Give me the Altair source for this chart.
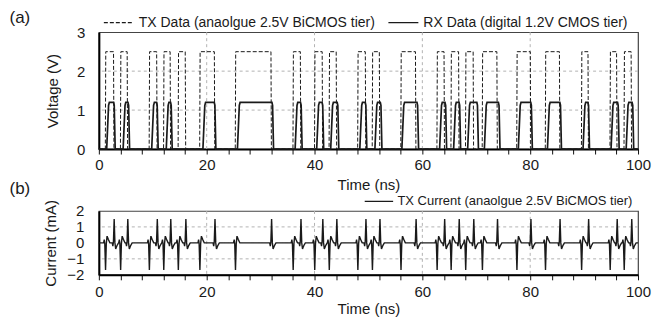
import altair as alt
import pandas as pd

TX_LABEL = "TX Data (anaolgue 2.5V BiCMOS tier)"
RX_LABEL = "RX Data (digital 1.2V CMOS tier)"
CUR_LABEL = "TX Current (anaolgue 2.5V BiCMOS tier)"

# TX data pulses (ns), high level 2.5 V
tx_start = [1.2, 4.0, 9.33, 12.0, 14.7, 18.7, 25.3, 36.0, 40.0, 42.7, 48.0,
            50.7, 56.0, 62.7, 65.3, 68.0, 71.1, 77.5, 82.8, 89.5, 94.8, 97.4]
tx_end = [2.8, 5.33, 10.8, 13.3, 16.1, 21.5, 32.0, 37.45, 41.5, 44.1, 49.5,
          52.1, 58.8, 64.1, 66.8, 69.5, 73.9, 80.1, 85.5, 90.8, 96.1, 98.8]
tx_level = 2.5

# RX data pulses (ns), high level 1.2 V
rx_start = [1.45, 4.5, 9.8, 12.5, 19.3, 25.7, 36.4, 40.4, 43.0, 48.4, 51.2,
            56.2, 63.2, 65.8, 68.4, 71.5, 77.8, 83.2, 89.8, 95.0, 97.8]
rx_end = [3.03, 5.7, 11.0, 13.6, 21.7, 32.4, 37.7, 41.7, 44.5, 49.7, 52.5,
          59.3, 64.5, 67.1, 70.4, 74.4, 80.4, 85.8, 91.0, 96.5, 99.2]
rx_level = 1.2

# TX current spike shapes read at a rising / falling TX edge (offset ns, mA)
rise_dt = [-0.32, -0.2, -0.1, 0.04, 0.18, 0.32, 0.55, 0.85]
rise_i = [0.0, 0.2, -0.05, -1.70, -0.05, 0.42, 0.22, 0.0]
fall_dt = [-0.32, -0.2, -0.1, 0.04, 0.18, 0.32, 0.55, 0.85]
fall_i = [0.0, -0.2, 0.05, 1.50, 0.0, -0.38, -0.18, 0.0]

t_domain = [0, 100]
x_ticks = [0, 4, 8, 12, 16, 20, 24, 28, 32, 36, 40, 44, 48, 52, 56, 60, 64,
           68, 72, 76, 80, 84, 88, 92, 96, 100]
v_ticks = [0, 1, 2, 3]
i_ticks = [-2, -1, 0, 1, 2]
grid_t = [20, 40, 60, 80]
grid_v = [1, 2]
grid_i = [-1, 1]

FONT = "Liberation Sans"
INK = "#1a1a1a"
LEG_SYMBOL = "M-3,0H3"   # 30 px long line at symbolSize 100
W = 540

# ---------- build tables ----------
rows = [(0.0, 0.0, TX_LABEL)]
for s, e in zip(tx_start, tx_end):
    rows += [(s, 0.0, TX_LABEL), (s + 0.08, tx_level, TX_LABEL),
             (e - 0.08, tx_level, TX_LABEL), (e, 0.0, TX_LABEL)]
rows.append((100.0, 0.0, TX_LABEL))
rows.append((0.0, 0.0, RX_LABEL))
for s, e in zip(rx_start, rx_end):
    rows += [(s, 0.0, RX_LABEL), (s + 0.35, rx_level - 0.08, RX_LABEL),
             (s + 0.5, rx_level, RX_LABEL), (e - 0.3, rx_level, RX_LABEL),
             (e - 0.18, rx_level - 0.08, RX_LABEL), (e, 0.0, RX_LABEL)]
rows.append((100.0, 0.0, RX_LABEL))
top_df = pd.DataFrame(rows, columns=["t", "v", "series"])

edges = sorted([(s, "r") for s in tx_start] + [(e, "f") for e in tx_end])
crow = [(0.0, 0.0)]
for t0, kind in edges:
    dts, vals = (rise_dt, rise_i) if kind == "r" else (fall_dt, fall_i)
    crow += [(t0 + d, v) for d, v in zip(dts, vals)]
crow.append((100.0, 0.0))
bot_df = pd.DataFrame(crow, columns=["t", "i"])
bot_df["series2"] = CUR_LABEL


def x_enc(label_pad, title_pad):
    return alt.X("t:Q", scale=alt.Scale(domain=t_domain, nice=False, zero=False),
                 axis=alt.Axis(values=x_ticks,
                               labelExpr="datum.value % 20 == 0 ? datum.label : ''",
                               labelOverlap=False, labelFlush=False, tickSize=5,
                               tickColor="#111", tickWidth=1, domainColor="#000",
                               domainWidth=2, grid=False, title="Time (ns)",
                               labelPadding=label_pad, titlePadding=title_pad))


grid_style = dict(color="#b3b3b3", strokeDash=[3, 3], strokeWidth=1)

# ---------- top panel ----------
ys_top = alt.Scale(domain=[0, 3], nice=False)
yax_top = alt.Axis(values=v_ticks, ticks=False, grid=False, domainColor="#000",
                   domainWidth=2, title="Voltage (V)", labelPadding=14,
                   titlePadding=16)
xt = x_enc(4, 5)

top_gx = alt.Chart(pd.DataFrame({"t": grid_t})).mark_rule(**grid_style).encode(x=xt)
top_gy = alt.Chart(pd.DataFrame({"v": grid_v})).mark_rule(**grid_style).encode(
    y=alt.Y("v:Q", scale=ys_top, axis=yax_top))
top_line = alt.Chart(top_df).mark_line(color=INK).encode(
    x=xt,
    y=alt.Y("v:Q", scale=ys_top, axis=yax_top),
    strokeDash=alt.StrokeDash(
        "series:N",
        scale=alt.Scale(domain=[TX_LABEL, RX_LABEL], range=[[4, 2], [1, 0]]),
        legend=alt.Legend(orient="none", legendX=13, legendY=-16.5, direction="horizontal",
                          title=None, symbolType=LEG_SYMBOL, symbolSize=100,
                          symbolStrokeWidth=1.3, symbolStrokeColor=INK,
                          symbolFillColor="transparent",
                          labelFontSize=14, labelFont=FONT, labelColor=INK,
                          labelLimit=500, labelOffset=13, columnPadding=10)),
    strokeWidth=alt.StrokeWidth(
        "series:N", scale=alt.Scale(domain=[TX_LABEL, RX_LABEL], range=[1.0, 1.7]),
        legend=None),
)
top_lab = alt.Chart(pd.DataFrame({"lab": ["(a)"]})).mark_text(
    fontSize=17, font=FONT, align="left", baseline="middle", color=INK).encode(
    text="lab:N", x=alt.value(-89.5), y=alt.value(-14))

top = alt.layer(top_gx, top_gy, top_line, top_lab).properties(width=W, height=117)

# ---------- bottom panel ----------
ys_bot = alt.Scale(domain=[-2, 2], nice=False)
yax_bot = alt.Axis(values=i_ticks, ticks=False, grid=False, domainColor="#000",
                   domainWidth=2, title="Current (mA)", labelPadding=15,
                   titlePadding=8)
xb = x_enc(5, 2)
bot_gx = alt.Chart(pd.DataFrame({"t": grid_t})).mark_rule(**grid_style).encode(x=xb)
bot_gy = alt.Chart(pd.DataFrame({"i": grid_i})).mark_rule(**grid_style).encode(
    y=alt.Y("i:Q", scale=ys_bot, axis=yax_bot))
bot_line = alt.Chart(bot_df).mark_line(color=INK, strokeWidth=1.4).encode(
    x=xb,
    y=alt.Y("i:Q", scale=ys_bot, axis=yax_bot),
    strokeDash=alt.StrokeDash(
        "series2:N", scale=alt.Scale(domain=[CUR_LABEL], range=[[1, 0]]),
        legend=alt.Legend(orient="none", legendX=274, legendY=-16, title=None,
                          symbolType=LEG_SYMBOL, symbolSize=90,
                          symbolStrokeWidth=1.2, symbolStrokeColor=INK,
                          symbolFillColor="transparent",
                          labelFontSize=13, labelFont=FONT, labelColor=INK,
                          labelLimit=500, labelOffset=12)),
)
bot_lab = alt.Chart(pd.DataFrame({"lab": ["(b)"]})).mark_text(
    fontSize=17, font=FONT, align="left", baseline="middle", color=INK).encode(
    text="lab:N", x=alt.value(-89.5), y=alt.value(-22))

bot = alt.layer(bot_gx, bot_gy, bot_line, bot_lab).properties(width=W, height=64)

chart = alt.vconcat(top, bot, spacing=62, bounds="flush").resolve_scale(
    x="independent", y="independent", strokeDash="independent"
).resolve_legend(strokeDash="independent").properties(
    padding={"left": 0, "top": 0, "right": 0, "bottom": 0}
).configure_view(stroke="#444", strokeWidth=1.2).configure_axis(
    labelFont=FONT, titleFont=FONT, labelFontSize=15, titleFontSize=15,
    titleFontWeight="normal", labelColor=INK, titleColor=INK
)

chart.save("out.html", embed_options={"renderer": "svg", "actions": False})
